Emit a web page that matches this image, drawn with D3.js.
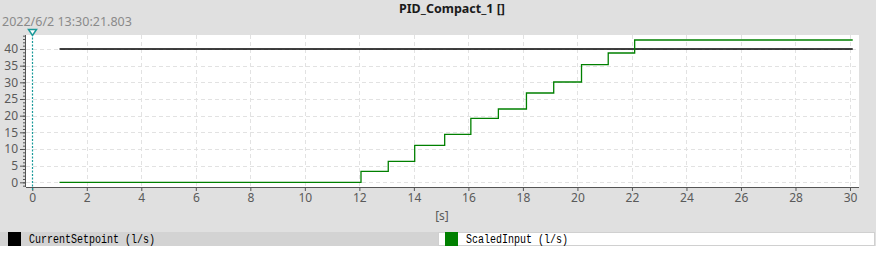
<!DOCTYPE html>
<html>
<head>
<meta charset="utf-8">
<script src="https://cdn.jsdelivr.net/npm/d3@7"></script>
<style>
  body { margin: 0; background: #e0e0e0; }
  svg { display: block; }
</style>
</head>
<body>
<script>
// chart data
const setpointTimes = [1, 30.1];
const setpointValues = [40, 40];
const inputTimes = [1, 12.06, 13.06, 14.03, 15.13, 16.09, 17.1, 18.13, 19.13, 20.15, 21.13, 22.1, 30.1];
const inputValues = [0, 3.3, 6.3, 11.1, 14.4, 19.2, 22.0, 26.8, 30.1, 35.3, 38.8, 42.7, 42.7];
const xTicks = [0, 2, 4, 6, 8, 10, 12, 14, 16, 18, 20, 22, 24, 26, 28, 30];
const yTicks = [0, 5, 10, 15, 20, 25, 30, 35, 40];
const seriesNames = ["CurrentSetpoint (l/s)", "ScaledInput (l/s)"];
const seriesColors = ["#000000", "#008000"];
const title = "PID_Compact_1 []";
const timestamp = "2022/6/2 13:30:21.803";
const cursorTime = 0;

const width = 876, height = 260;
const plot = { left: 26, top: 35, right: 859, bottom: 187 };
const font = "'Noto Sans', 'Open Sans', sans-serif";

const x = d3.scaleLinear().domain([-0.23, 30.33]).range([plot.left, plot.right]);
const y = d3.scaleLinear().domain([-1.4, 44.2]).range([plot.bottom, plot.top]);

const svg = d3.select("body").append("svg")
    .attr("width", width)
    .attr("height", height);

svg.append("rect").attr("width", width).attr("height", height).attr("fill", "#e0e0e0");

// title + timestamp
svg.append("text")
    .attr("x", 452).attr("y", 13)
    .attr("text-anchor", "middle")
    .attr("font-family", font).attr("font-size", 12.5).attr("font-weight", "bold")
    .attr("fill", "#1a1a1a")
    .text(title);

svg.append("text")
    .attr("x", 2).attr("y", 26)
    .attr("font-family", font).attr("font-size", 12.5)
    .attr("fill", "#8a8a8a")
    .text(timestamp);

// plot background
svg.append("rect")
    .attr("x", plot.left).attr("y", plot.top)
    .attr("width", plot.right - plot.left).attr("height", plot.bottom - plot.top)
    .attr("fill", "#fff");

// grid
const grid = svg.append("g").attr("stroke", "#e2e2e2").attr("stroke-dasharray", "4,3");
grid.selectAll("line.v")
    .data(xTicks.filter(d => d > 0))
    .join("line")
    .attr("x1", d => Math.round(x(d)) + 0.5).attr("x2", d => Math.round(x(d)) + 0.5)
    .attr("y1", plot.top).attr("y2", plot.bottom);
grid.selectAll("line.h")
    .data(yTicks)
    .join("line")
    .attr("x1", plot.left).attr("x2", plot.right)
    .attr("y1", d => Math.round(y(d)) + 0.5).attr("y2", d => Math.round(y(d)) + 0.5);

// y axis with minor ticks
const yMinor = d3.range(-1, 45);
const yAxis = svg.append("g").attr("transform", `translate(${plot.left},0)`)
    .call(d3.axisLeft(y).tickValues(yMinor).tickSize(3).tickFormat(""));
yAxis.select(".domain").remove();
yAxis.selectAll("line").attr("stroke", "#555");
const yMajor = svg.append("g").attr("transform", `translate(${plot.left},0)`)
    .call(d3.axisLeft(y).tickValues(yTicks).tickSize(6).tickPadding(2));
yMajor.select(".domain").attr("stroke", "#555").attr("d", `M-0.5,${plot.top}V${plot.bottom}`);
yMajor.selectAll("line").attr("stroke", "#555");
yMajor.selectAll("text").attr("font-family", font).attr("font-size", 12).attr("fill", "#5a5a5a");

// x axis
const xAxis = svg.append("g").attr("transform", `translate(0,${plot.bottom})`)
    .call(d3.axisBottom(x).tickValues(xTicks).tickSize(4).tickPadding(2));
xAxis.select(".domain").attr("stroke", "#555").attr("d", `M${plot.left},0.5H${plot.right}`);
xAxis.selectAll("line").attr("stroke", "#555");
xAxis.selectAll("text").attr("font-family", font).attr("font-size", 12).attr("fill", "#5a5a5a");

svg.append("text")
    .attr("x", 442).attr("y", 220)
    .attr("text-anchor", "middle")
    .attr("font-family", font).attr("font-size", 12)
    .attr("fill", "#5a5a5a")
    .text("[s]");

// series
const line = d3.line().curve(d3.curveStepAfter);
const series = [
    d3.zip(setpointTimes, setpointValues),
    d3.zip(inputTimes, inputValues)
];
series.forEach((pts, i) => {
    svg.append("path")
        .datum(pts.map(p => [x(p[0]), y(p[1])]))
        .attr("fill", "none")
        .attr("stroke", seriesColors[i])
        .attr("stroke-width", 1.3)
        .attr("d", line);
});

// cursor
const cx = Math.round(x(cursorTime)) + 0.5;
svg.append("line")
    .attr("x1", cx).attr("x2", cx)
    .attr("y1", 34).attr("y2", plot.bottom + 3)
    .attr("stroke", "#1a9a9a").attr("stroke-width", 1.2)
    .attr("stroke-dasharray", "2,1.5");
svg.append("path")
    .attr("d", `M${cx - 4},29.5L${cx + 4},29.5L${cx},35.5Z`)
    .attr("fill", "#fff")
    .attr("stroke", "#1a9a9a").attr("stroke-width", 1.5);

// legend row
svg.append("rect").attr("x", 0).attr("y", 246).attr("width", width).attr("height", 14).attr("fill", "#fff");
svg.append("rect").attr("x", 0).attr("y", 232).attr("width", 438).attr("height", 14).attr("fill", "#d3d3d3");
svg.append("rect").attr("x", 438.5).attr("y", 232.5).attr("width", 436).attr("height", 13)
    .attr("fill", "#fff").attr("stroke", "#d0d0d0");

const legendX = [8, 445];
const legendTextW = [126, 102];
seriesNames.forEach((name, i) => {
    svg.append("rect")
        .attr("x", legendX[i]).attr("y", 232)
        .attr("width", 13).attr("height", 14)
        .attr("fill", seriesColors[i]);
    svg.append("text")
        .attr("x", legendX[i] + 21).attr("y", 243)
        .attr("font-family", "'Liberation Mono', 'DejaVu Sans Mono', monospace")
        .attr("font-size", 12)
        .attr("textLength", legendTextW[i])
        .attr("lengthAdjust", "spacingAndGlyphs")
        .attr("fill", "#000")
        .text(name);
});
</script>
</body>
</html>
